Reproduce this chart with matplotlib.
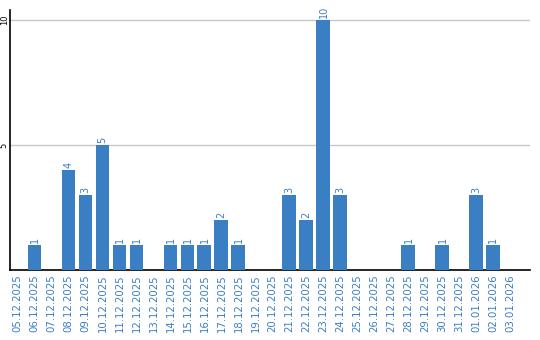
import matplotlib
matplotlib.use('Agg')
import matplotlib.pyplot as plt

dates = ['05.12.2025', '06.12.2025', '07.12.2025', '08.12.2025', '09.12.2025',
         '10.12.2025', '11.12.2025', '12.12.2025', '13.12.2025', '14.12.2025',
         '15.12.2025', '16.12.2025', '17.12.2025', '18.12.2025', '19.12.2025',
         '20.12.2025', '21.12.2025', '22.12.2025', '23.12.2025', '24.12.2025',
         '25.12.2025', '26.12.2025', '27.12.2025', '28.12.2025', '29.12.2025',
         '30.12.2025', '31.12.2025', '01.01.2026', '02.01.2026', '03.01.2026']
counts = [0, 1, 0, 4, 3, 5, 1, 1, 0, 1, 1, 1, 2, 1, 0,
          0, 3, 2, 10, 3, 0, 0, 0, 1, 0, 1, 0, 3, 1, 0]
yticks = [5, 10]

blue = '#3a7ec3'

fig = plt.figure(figsize=(5.4, 3.4), dpi=100)
ax = fig.add_axes([10/540, 70/340, 520/540, 260/340])

x = range(len(dates))
ax.bar(x, counts, width=0.82, color=blue, zorder=3)
for i, v in enumerate(counts):
    if v > 0:
        ax.text(i, v + 0.08, str(v), rotation=90, ha='center', va='bottom',
                color=blue, fontsize=7)

ax.set_xlim(-0.44, 30.15)
ax.set_ylim(0, 10.4)
ax.set_yticks(yticks)
ax.set_yticklabels([str(t) for t in yticks], rotation=90, va='center', fontsize=6)
ax.set_xticks(list(x))
ax.set_xticklabels(dates, rotation=90, color=blue, fontsize=7.3)
ax.tick_params(length=0, pad=3)
ax.tick_params(axis='y', pad=1)
ax.grid(axis='y', color='#c8c8c8', linewidth=1, zorder=0)
for s in ['top', 'right']:
    ax.spines[s].set_visible(False)
ax.spines['left'].set_linewidth(1.2)
ax.spines['bottom'].set_linewidth(1.2)

fig.savefig('out.png', dpi=100)
